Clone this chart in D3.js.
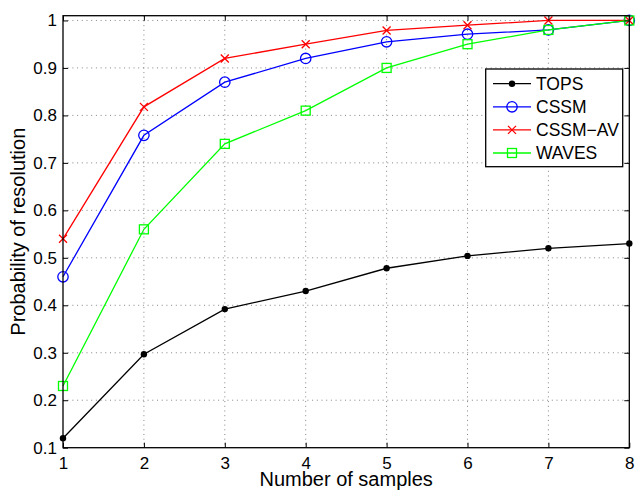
<!DOCTYPE html>
<html>
<head>
<meta charset="utf-8">
<script src="https://cdn.jsdelivr.net/npm/d3@7"></script>
<style>
  body { margin: 0; background: #fff; }
  svg text { font-family: "Liberation Sans", Arial, Helvetica, sans-serif; fill: #000; }
  .grid line { stroke: #666; stroke-width: 0.8; stroke-dasharray: 1,3.7; }
</style>
</head>
<body>
<svg width="636" height="492"></svg>
<script>
// data
var samples = [1, 2, 3, 4, 5, 6, 7, 8];
var tops    = [0.12, 0.297, 0.392, 0.43, 0.478, 0.504, 0.52, 0.53];
var cssm    = [0.46, 0.758, 0.87, 0.92, 0.955, 0.971, 0.98, 1.0];
var cssmAv  = [0.54, 0.818, 0.92, 0.95, 0.979, 0.99, 1.0, 1.0];
var waves   = [0.23, 0.56, 0.74, 0.81, 0.90, 0.95, 0.98, 1.0];
var seriesNames = ["TOPS", "CSSM", "CSSM\u2212AV", "WAVES"];
var yTicks = [0.1, 0.2, 0.3, 0.4, 0.5, 0.6, 0.7, 0.8, 0.9, 1];

(function() {
    "use strict";

    var series = [
        { name: seriesNames[0], values: tops,   color: "#000000", marker: "dot" },
        { name: seriesNames[1], values: cssm,   color: "#0000ff", marker: "circle" },
        { name: seriesNames[2], values: cssmAv, color: "#ff0000", marker: "cross" },
        { name: seriesNames[3], values: waves,  color: "#00ff00", marker: "square" }
    ];

    var svg = d3.select("svg");
    var plotLeft = 63, plotRight = 629.3, plotTop = 15.7, plotBottom = 447.7;

    var x = d3.scaleLinear().domain([1, 8]).range([plotLeft, plotRight]);
    var y = d3.scaleLinear().domain([0.1, 1.01]).range([plotBottom, plotTop]);

    // grid
    var grid = svg.append("g").attr("class", "grid");
    grid.selectAll(".gx").data(samples.slice(1, -1)).enter().append("line")
        .attr("x1", function(d) { return x(d); }).attr("x2", function(d) { return x(d); })
        .attr("y1", plotTop).attr("y2", plotBottom);
    grid.selectAll(".gy").data(yTicks.slice(1)).enter().append("line")
        .attr("y1", function(d) { return y(d); }).attr("y2", function(d) { return y(d); })
        .attr("x1", plotLeft).attr("x2", plotRight);

    // lines
    var line = d3.line()
        .x(function(d, i) { return x(samples[i]); })
        .y(function(d) { return y(d); });

    var drawMarker = function(g, type, color, cx, cy) {
        if (type === "dot") {
            g.append("circle").attr("cx", cx).attr("cy", cy).attr("r", 3.2).attr("fill", color);
        } else if (type === "circle") {
            g.append("circle").attr("cx", cx).attr("cy", cy).attr("r", 5.2)
                .attr("fill", "none").attr("stroke", color).attr("stroke-width", 1.3);
        } else if (type === "square") {
            g.append("rect").attr("x", cx - 4.5).attr("y", cy - 4.5).attr("width", 9).attr("height", 9)
                .attr("fill", "none").attr("stroke", color).attr("stroke-width", 1.3);
        } else {
            var s = 4;
            g.append("path")
                .attr("d", "M" + (cx - s) + "," + (cy - s) + "L" + (cx + s) + "," + (cy + s) +
                           "M" + (cx - s) + "," + (cy + s) + "L" + (cx + s) + "," + (cy - s))
                .attr("stroke", color).attr("stroke-width", 1.3);
        }
    };

    series.forEach(function(s) {
        var g = svg.append("g");
        g.append("path")
            .attr("d", line(s.values))
            .attr("fill", "none")
            .attr("stroke", s.color)
            .attr("stroke-width", 1.3);
        s.values.forEach(function(v, i) {
            drawMarker(g, s.marker, s.color, x(samples[i]), y(v));
        });
    });

    // axes (inward ticks, box)
    var fmt = function(d) { return String(+d.toFixed(1)); };

    var xAxis = svg.append("g").attr("transform", "translate(0," + plotBottom + ")")
        .call(d3.axisBottom(x).tickValues(samples).tickSize(-5).tickPadding(9).tickFormat(d3.format("d")));
    svg.append("g").attr("transform", "translate(" + plotLeft + ",0)")
        .call(d3.axisLeft(y).tickValues(yTicks).tickSize(-5).tickPadding(6).tickFormat(fmt));
    svg.append("g").attr("transform", "translate(0," + plotTop + ")")
        .call(d3.axisTop(x).tickValues(samples).tickSize(-5).tickFormat(""));
    svg.append("g").attr("transform", "translate(" + plotRight + ",0)")
        .call(d3.axisRight(y).tickValues(yTicks).tickSize(-5).tickFormat(""));

    svg.selectAll(".domain").remove();
    svg.selectAll(".tick line").attr("stroke", "#000").attr("stroke-width", 1);
    svg.selectAll(".tick text").style("font-size", "17px").attr("fill", "#000");
    xAxis.selectAll(".tick text").attr("dy", "0.7em");

    svg.append("rect")
        .attr("x", plotLeft).attr("y", plotTop)
        .attr("width", plotRight - plotLeft).attr("height", plotBottom - plotTop)
        .attr("fill", "none").attr("stroke", "#000").attr("stroke-width", 1.3);

    // axis labels
    svg.append("text")
        .attr("x", (plotLeft + plotRight) / 2).attr("y", 486)
        .attr("text-anchor", "middle")
        .style("font-size", "20px")
        .text("Number of samples");

    svg.append("text")
        .attr("transform", "translate(25," + (plotTop + plotBottom) / 2 + ") rotate(-90)")
        .attr("text-anchor", "middle")
        .style("font-size", "20px")
        .text("Probability of resolution");

    // legend
    var legend = svg.append("g");
    legend.append("rect")
        .attr("x", 485.7).attr("y", 69)
        .attr("width", 137).attr("height", 97.7)
        .attr("fill", "#fff").attr("stroke", "#000").attr("stroke-width", 1.3);

    series.forEach(function(s, i) {
        var cy = 83.7 + i * 23.1;
        legend.append("line")
            .attr("x1", 493).attr("x2", 531)
            .attr("y1", cy).attr("y2", cy)
            .attr("stroke", s.color).attr("stroke-width", 1.3);
        drawMarker(legend, s.marker, s.color, 512, cy);
        legend.append("text")
            .attr("x", 536).attr("y", cy)
            .attr("dy", "0.36em")
            .style("font-size", "17.5px")
            .text(s.name);
    });
}());
</script>
</body>
</html>
